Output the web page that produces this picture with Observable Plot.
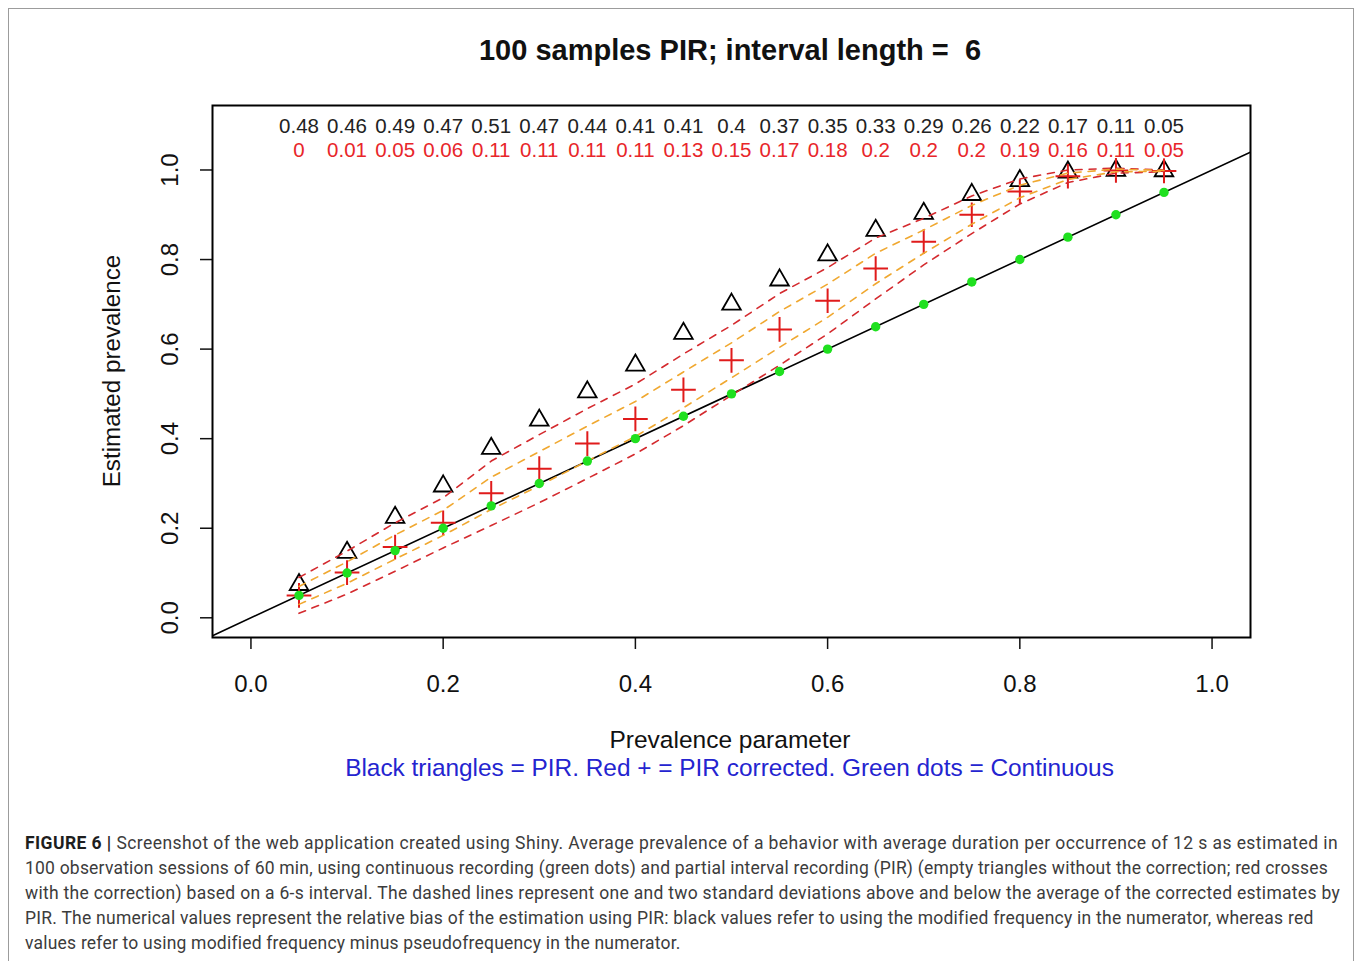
<!DOCTYPE html>
<html>
<head>
<meta charset="utf-8">
<script src="https://cdn.jsdelivr.net/npm/d3@7"></script>
<script src="https://cdn.jsdelivr.net/npm/@observablehq/plot@0.6"></script>
<style>
  html, body { margin: 0; padding: 0; background: #fff; }
  #wrap { position: relative; width: 1357px; height: 961px; overflow: hidden; font-family: "Liberation Sans", Arial, sans-serif; }
  #border { position: absolute; left: 8px; top: 8px; width: 1346px; height: 990px; border: 1px solid #9c9c9c; box-sizing: border-box; }
  #chart { position: absolute; left: 0; top: 0; }
  .lbl { position: absolute; white-space: pre; text-align: center; line-height: 24px; }
  #title { left: 0; width: 1460px; top: 36px; font-size: 29px; font-weight: bold; color: #111; line-height: 28px; }
  #xlab { left: 0; width: 1460px; top: 728px; font-size: 24.5px; color: #111; }
  #sub { left: 0; width: 1459px; top: 756px; font-size: 24.4px; color: #2424d0; }
  #ylab { left: -88px; width: 400px; top: 359px; font-size: 24.2px; color: #111; transform: rotate(-90deg); }
  #cap { position: absolute; left: 25px; top: 831px; font-family: Roboto, "Liberation Sans", Arial, sans-serif; font-size: 17.5px; line-height: 25px; color: #3c3c3c; }
  #cap div { white-space: nowrap; }
  #cap span.l { display: inline-block; white-space: pre; }
  #cap b { color: #1e1e1e; }
</style>
</head>
<body>
<div id="wrap">
  <div id="border"></div>
  <div id="chart"></div>
  <div id="title" class="lbl">100 samples PIR; interval length =  6</div>
  <div id="xlab" class="lbl">Prevalence parameter</div>
  <div id="sub" class="lbl">Black triangles = PIR. Red + = PIR corrected. Green dots = Continuous</div>
  <div id="ylab" class="lbl">Estimated prevalence</div>
  <div id="cap">
    <div><span class="l"><b>FIGURE 6 |</b> Screenshot of the web application created using Shiny. Average prevalence of a behavior with average duration per occurrence of 12 s as estimated in</span></div>
    <div><span class="l">100 observation sessions of 60 min, using continuous recording (green dots) and partial interval recording (PIR) (empty triangles without the correction; red crosses</span></div>
    <div><span class="l">with the correction) based on a 6-s interval. The dashed lines represent one and two standard deviations above and below the average of the corrected estimates by</span></div>
    <div><span class="l">PIR. The numerical values represent the relative bias of the estimation using PIR: black values refer to using the modified frequency in the numerator, whereas red</span></div>
    <div><span class="l">values refer to using modified frequency minus pseudofrequency in the numerator.</span></div>
  </div>
</div>
<script>
// ---- data ----
const prevalence = [0.05,0.1,0.15,0.2,0.25,0.3,0.35,0.4,0.45,0.5,0.55,0.6,0.65,0.7,0.75,0.8,0.85,0.9,0.95];
const continuous = [0.05,0.1,0.15,0.2,0.25,0.3,0.35,0.4,0.45,0.5,0.55,0.6,0.65,0.7,0.75,0.8,0.85,0.9,0.95];
const pirEstimate = [0.074,0.146,0.224,0.294,0.378,0.441,0.504,0.564,0.635,0.70,0.754,0.81,0.865,0.903,0.945,0.976,0.995,0.999,0.998];
const pirCorrected = [0.05,0.101,0.158,0.212,0.278,0.333,0.389,0.444,0.509,0.575,0.644,0.708,0.78,0.84,0.9,0.952,0.986,0.999,0.998];
const upper2sd = [0.09,0.149,0.212,0.268,0.35,0.409,0.467,0.522,0.589,0.653,0.724,0.782,0.848,0.892,0.942,0.98,1.0,1.004,1.0];
const upper1sd = [0.07,0.125,0.185,0.24,0.314,0.371,0.428,0.483,0.549,0.614,0.684,0.745,0.814,0.866,0.921,0.966,0.993,1.002,0.999];
const lower1sd = [0.03,0.077,0.131,0.184,0.242,0.295,0.35,0.405,0.469,0.536,0.604,0.671,0.746,0.814,0.879,0.938,0.979,0.996,0.997];
const lower2sd = [0.01,0.053,0.104,0.156,0.206,0.257,0.311,0.366,0.429,0.497,0.564,0.634,0.712,0.788,0.858,0.924,0.972,0.993,0.996];
const biasPIR = [0.48,0.46,0.49,0.47,0.51,0.47,0.44,0.41,0.41,0.4,0.37,0.35,0.33,0.29,0.26,0.22,0.17,0.11,0.05];
const biasCorrected = [0,0.01,0.05,0.06,0.11,0.11,0.11,0.11,0.13,0.15,0.17,0.18,0.2,0.2,0.2,0.19,0.16,0.11,0.05];
const xTicks = [0,0.2,0.4,0.6,0.8,1.0];
const yTicks = [0,0.2,0.4,0.6,0.8,1.0];
const xDomain = [-0.04, 1.04];
const yDomain = [-0.044, 1.144];

const rows = prevalence.map((x, i) => ({
  x, cont: continuous[i], pir: pirEstimate[i], cor: pirCorrected[i],
  u2: upper2sd[i], u1: upper1sd[i], l1: lower1sd[i], l2: lower2sd[i],
  bP: biasPIR[i], bC: biasCorrected[i]
}));

const RED_D = "#d42a2e", ORANGE_D = "#f0a830", RED = "#e01b1b", GREEN = "#1fe01f";
const fmt = d3.format(".1f");

const chart = Plot.plot({
  width: 1357, height: 790,
  marginLeft: 212, marginRight: 107, marginTop: 105, marginBottom: 153,
  x: { domain: xDomain },
  y: { domain: yDomain },
  style: { fontFamily: "'Liberation Sans', Arial, sans-serif", background: "transparent", color: "#111" },
  marks: [
    Plot.axisX({ ticks: xTicks, tickFormat: fmt, tickSize: 12, tickPadding: 25, fontSize: 24, label: null, strokeWidth: 1.5 }),
    Plot.axisY({ ticks: yTicks, tickFormat: () => "", tickSize: 12, label: null, strokeWidth: 1.5 }),
    Plot.text(yTicks, { y: d => d, text: d => fmt(d), frameAnchor: "left", dx: -42, rotate: -90, fontSize: 24, textAnchor: "middle", lineAnchor: "middle", fill: "#111" }),
    Plot.line(xDomain, { x: d => d, y: d => d, stroke: "#000", strokeWidth: 1.6, clip: true }),
    Plot.dot(rows, { x: "x", y: "pir", symbol: "triangle", r: 6.9, stroke: "#000", strokeWidth: 1.8, fill: "none" }),
    Plot.dot(rows, { x: "x", y: "cor", symbol: "plus", r: 8, stroke: RED, strokeWidth: 2 }),
    Plot.line(rows, { x: "x", y: "u2", stroke: RED_D, strokeWidth: 1.6, strokeDasharray: "7,7" }),
    Plot.line(rows, { x: "x", y: "l2", stroke: RED_D, strokeWidth: 1.6, strokeDasharray: "7,7" }),
    Plot.line(rows, { x: "x", y: "u1", stroke: ORANGE_D, strokeWidth: 1.6, strokeDasharray: "7,7" }),
    Plot.line(rows, { x: "x", y: "l1", stroke: ORANGE_D, strokeWidth: 1.6, strokeDasharray: "7,7" }),
    Plot.dot(rows, { x: "x", y: "cont", r: 4.7, fill: GREEN, stroke: "none" }),
    Plot.text(rows, { x: "x", text: d => String(d.bP), frameAnchor: "top", dy: 21, lineAnchor: "middle", fontSize: 20.5, fill: "#222" }),
    Plot.text(rows, { x: "x", text: d => String(d.bC), frameAnchor: "top", dy: 45, lineAnchor: "middle", fontSize: 20.5, fill: "#e8262a" }),
    Plot.frame({ stroke: "#000", strokeWidth: 2 })
  ]
});
document.getElementById("chart").appendChild(chart);

// fit caption lines to the reference line lengths
const ends = [1338, 1328, 1340, 1313, 680];
document.querySelectorAll("#cap span.l").forEach((el, i) => {
  const w = el.getBoundingClientRect().width;
  const n = el.textContent.length;
  const target = ends[i] - 25;
  el.style.letterSpacing = ((target - w) / n).toFixed(3) + "px";
});
</script>
</body>
</html>
